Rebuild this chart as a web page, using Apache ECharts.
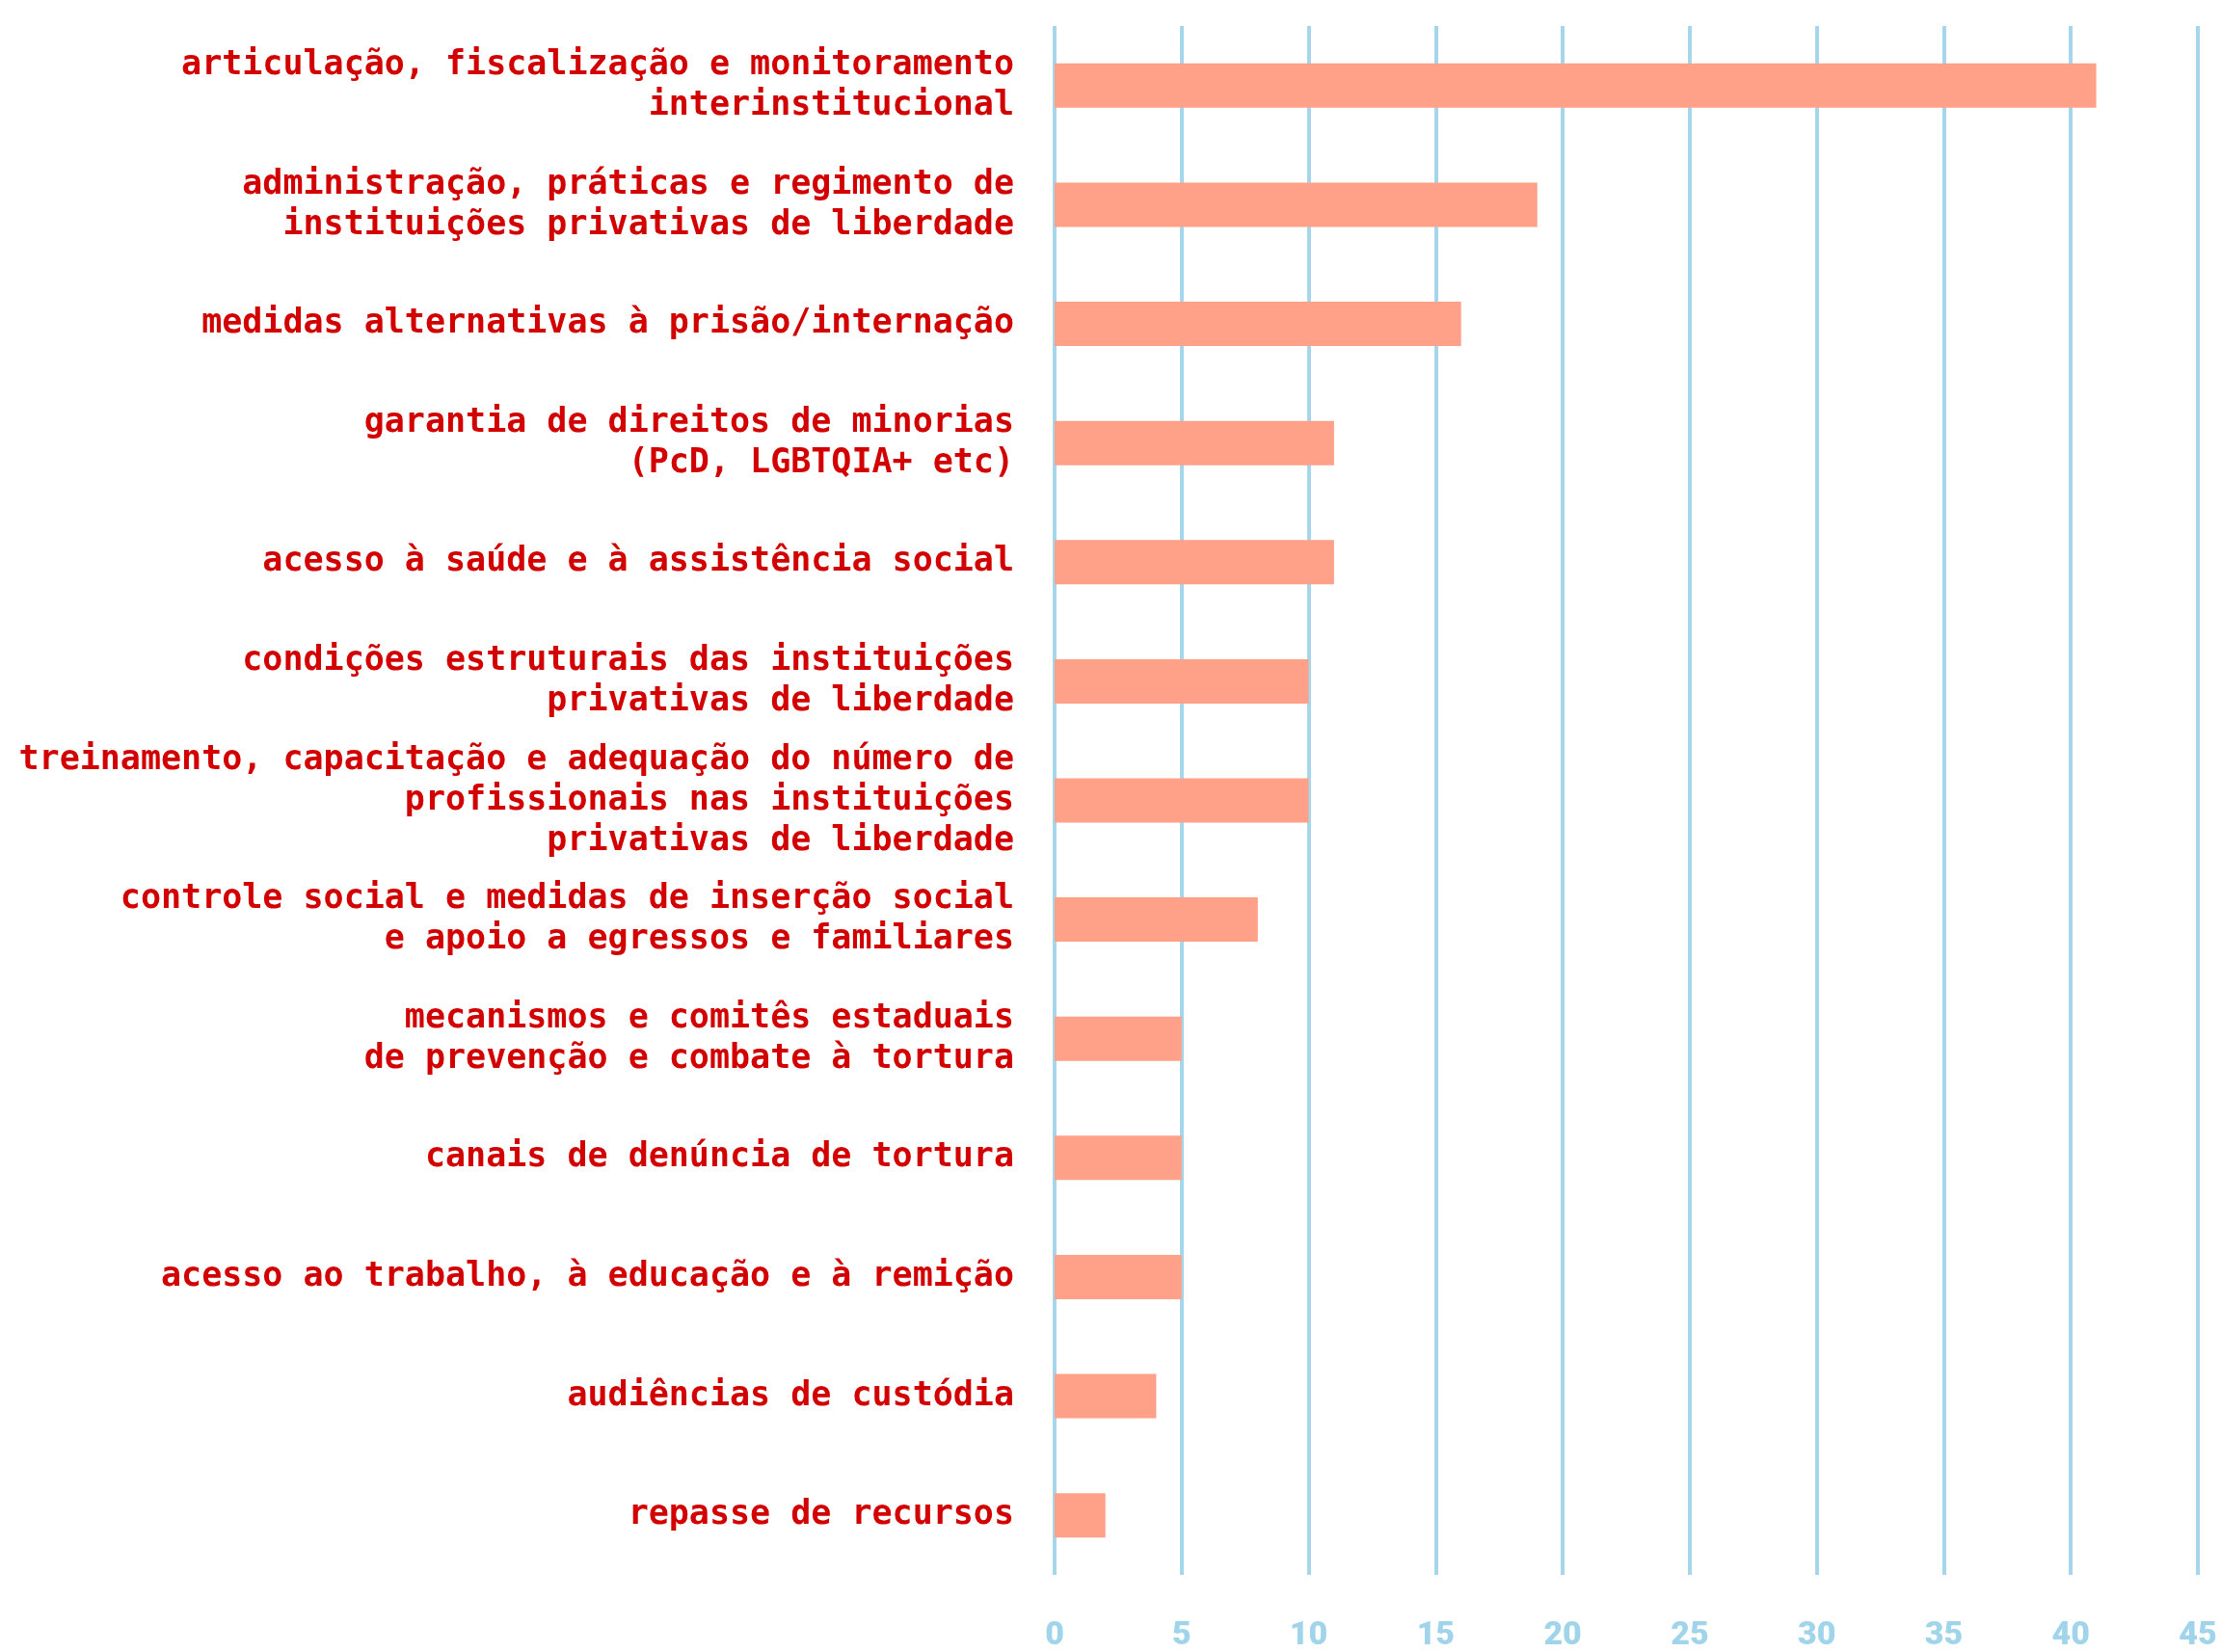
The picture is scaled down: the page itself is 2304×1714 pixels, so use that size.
<!DOCTYPE html>
<html>
<head>
<meta charset="utf-8">
<script src="https://cdn.jsdelivr.net/npm/echarts@6/dist/echarts.min.js"></script>
<style>
html,body{margin:0;padding:0;background:#fff;}
#chart{width:2304px;height:1714px;}
</style>
</head>
<body>
<div id="chart"></div>
<script>
const categories = [
  "articulação, fiscalização e monitoramento\ninterinstitucional",
  "administração, práticas e regimento de\ninstituições privativas de liberdade",
  "medidas alternativas à prisão/internação",
  "garantia de direitos de minorias\n(PcD, LGBTQIA+ etc)",
  "acesso à saúde e à assistência social",
  "condições estruturais das instituições\nprivativas de liberdade",
  "treinamento, capacitação e adequação do número de\nprofissionais nas instituições\nprivativas de liberdade",
  "controle social e medidas de inserção social\ne apoio a egressos e familiares",
  "mecanismos e comitês estaduais\nde prevenção e combate à tortura",
  "canais de denúncia de tortura",
  "acesso ao trabalho, à educação e à remição",
  "audiências de custódia",
  "repasse de recursos"
];
const values = [41, 19, 16, 11, 11, 10, 10, 8, 5, 5, 5, 4, 2];
const xTicks = [0, 5, 10, 15, 20, 25, 30, 35, 40, 45];

const chart = echarts.init(document.getElementById('chart'), null, {renderer: 'canvas'});
chart.setOption({
  animation: false,
  backgroundColor: '#ffffff',
  grid: {left: 1094, right: 24, top: 27, bottom: 76, containLabel: false},
  xAxis: {
    type: 'value',
    min: xTicks[0],
    max: xTicks[xTicks.length - 1],
    interval: 5,
    axisLine: {show: false},
    axisTick: {show: false},
    splitLine: {show: true, lineStyle: {color: '#a6d6eb', width: 4}},
    axisLabel: {
      color: '#a0d4ea',
      fontSize: 34,
      fontWeight: 900,
      fontFamily: 'Roboto',
      margin: 46,
      showMinLabel: true,
      showMaxLabel: true
    }
  },
  yAxis: {
    type: 'category',
    inverse: true,
    data: categories,
    axisLine: {show: false},
    axisTick: {show: false},
    splitLine: {show: false},
    axisLabel: {
      color: '#d20000',
      fontSize: 35,
      fontWeight: 'bold',
      fontFamily: 'DejaVu Sans Mono',
      lineHeight: 42,
      margin: 42,
      align: 'right'
    }
  },
  series: [{
    type: 'bar',
    data: values,
    barWidth: 46,
    itemStyle: {color: '#ffa088'},
    silent: true
  }]
});
</script>
</body>
</html>
